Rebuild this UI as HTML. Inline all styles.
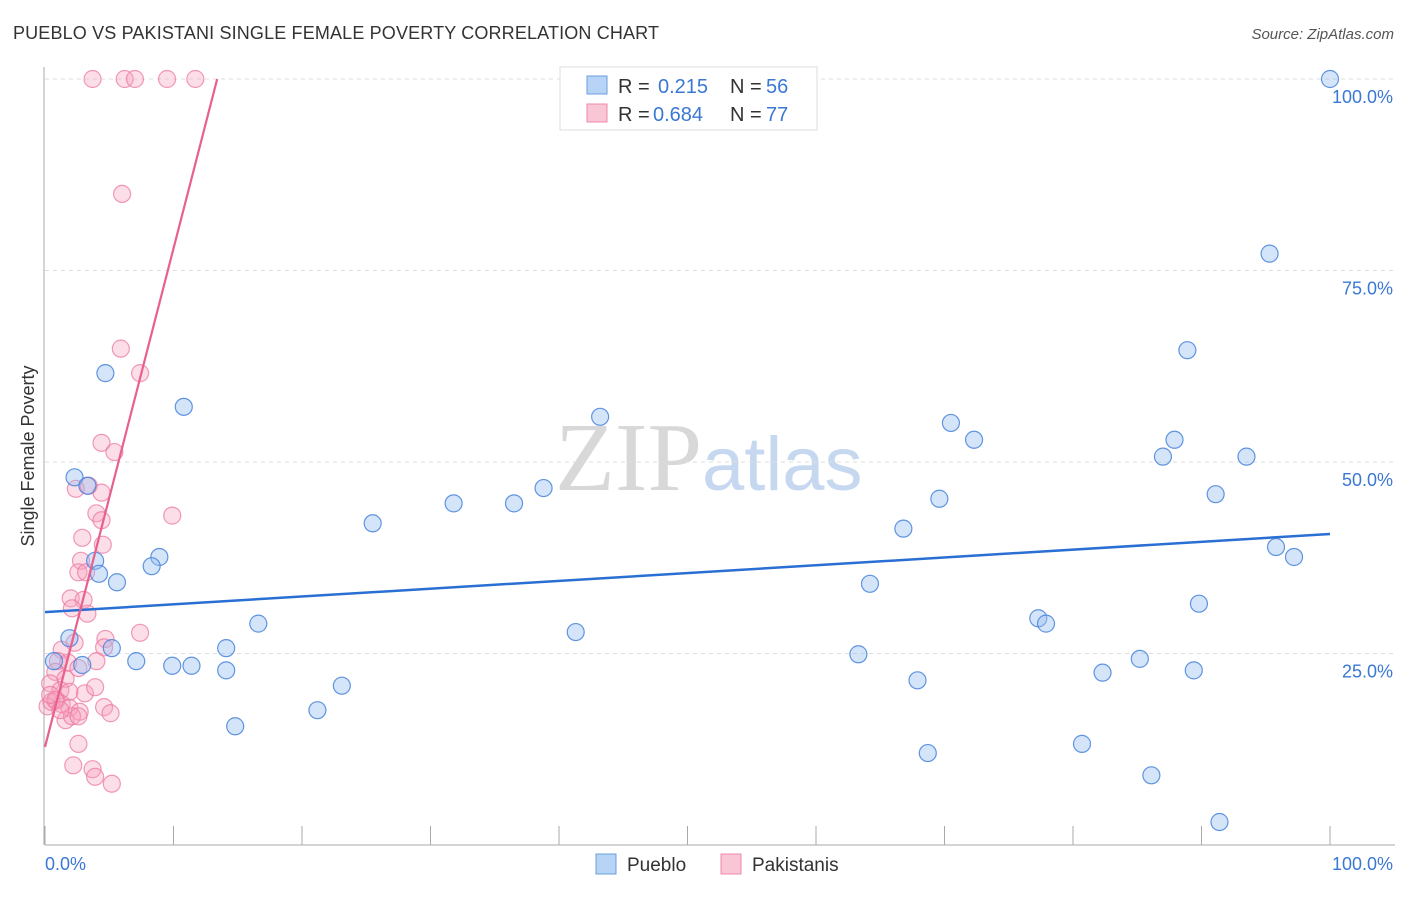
<!DOCTYPE html>
<html><head><meta charset="utf-8"><style>
body{margin:0;background:#fff;font-family:"Liberation Sans",sans-serif;}
</style></head><body>
<svg id="chart" width="1406" height="892" xmlns="http://www.w3.org/2000/svg" font-family="Liberation Sans, sans-serif">
<text x="13" y="39" font-size="18" fill="#333" textLength="646">PUEBLO VS PAKISTANI SINGLE FEMALE POVERTY CORRELATION CHART</text>
<text x="1394" y="39" font-size="15" fill="#555" text-anchor="end" font-style="italic">Source: ZipAtlas.com</text>
<text x="555" y="490" font-size="98"><tspan fill="#d8d8d8" font-family="Liberation Serif, serif">ZIP</tspan><tspan fill="#c6d8f0" font-size="76">atlas</tspan></text>
<text transform="translate(34,456) rotate(-90)" font-size="18" fill="#333" text-anchor="middle">Single Female Poverty</text>
<g id="axes"></g>
<g id="marks"></g>
<g>
<rect x="560" y="67" width="257" height="63" fill="#fff" stroke="#ddd"/>
<rect x="587" y="76" width="20" height="18" fill="#b7d3f5" stroke="#6a9fe0"/>
<text x="618" y="93" font-size="20" fill="#333">R =</text>
<text x="658" y="93" font-size="20" fill="#3a78d4">0.215</text>
<text x="730" y="93" font-size="20" fill="#333">N =</text>
<text x="766" y="93" font-size="20" fill="#3a78d4">56</text>
<rect x="587" y="104" width="20" height="18" fill="#f9c6d6" stroke="#f08aab"/>
<text x="618" y="121" font-size="20" fill="#333">R =</text>
<text x="653" y="121" font-size="20" fill="#3a78d4">0.684</text>
<text x="730" y="121" font-size="20" fill="#333">N =</text>
<text x="766" y="121" font-size="20" fill="#3a78d4">77</text>
</g>
<g>
<rect x="596" y="854" width="20" height="20" fill="#b7d3f5" stroke="#6a9fe0"/>
<text x="627" y="871" font-size="19" fill="#333">Pueblo</text>
<rect x="721" y="854" width="20" height="20" fill="#f9c6d6" stroke="#f08aab"/>
<text x="752" y="871" font-size="19" fill="#333">Pakistanis</text>
</g>
</svg>
<script>
const blueX=[100,95.3,88.9,4.7,10.8,43.2,70.5,72.3,87.9,87.0,93.5,2.3,3.3,38.8,31.8,36.5,91.1,69.6,25.5,66.8,8.9,8.3,3.9,4.2,5.6,64.2,95.8,97.2,89.8,77.3,77.9,16.6,41.3,1.9,5.2,14.1,63.3,0.7,7.1,9.9,11.4,2.9,85.2,82.3,89.4,14.1,67.9,23.1,21.2,14.8,68.7,80.7,86.1,91.4];
const blueY=[100,77.2,64.6,61.6,57.2,55.9,55.1,52.9,52.9,50.7,50.7,48.0,46.9,46.6,44.6,44.6,45.8,45.2,42.0,41.3,37.6,36.4,37.1,35.4,34.3,34.1,38.9,37.6,31.5,29.6,28.9,28.9,27.8,27.0,25.7,25.7,24.9,24.0,24.0,23.4,23.4,23.5,24.3,22.5,22.8,22.8,21.5,20.8,17.6,15.5,12.0,13.2,9.1,3.0];
const pinkX=[3.7,6.2,7.0,9.5,11.7,6.0,5.9,7.4,4.4,5.4,2.4,3.4,4.4,9.9,4.0,4.4,2.9,4.5,2.8,2.6,3.2,2.0,3.0,2.1,3.3,7.4,2.3,4.7,4.6,1.3,1.0,4.0,1.8,0.8,2.6,1.6,0.4,1.2,3.1,1.9,3.9,0.9,1.3,0.2,0.5,1.9,2.7,4.6,5.1,1.6,2.1,2.6,2.6,2.2,3.7,3.9,5.2,0.8,0.4,1.2];
const pinkY=[100,100,100,100,100,85.0,64.8,61.6,52.5,51.3,46.5,46.9,46.0,43.0,43.3,42.4,40.1,39.2,37.1,35.6,35.6,32.2,32.0,30.9,30.2,27.7,26.4,26.9,25.8,25.5,24.0,24.0,23.8,22.6,23.1,21.7,21.1,20.2,19.8,20.0,20.6,18.9,18.4,18.1,18.7,17.9,17.4,18.0,17.2,16.3,16.8,16.8,13.2,10.4,9.9,8.9,8.0,18.9,19.6,17.6];
const blueTrend=[[0,30.4],[100,40.6]];
const pinkTrend=[[0,12.8],[13.4,100]];
const yTicks=[25,50,75,100];
const xTickLabels=["0.0%","100.0%"];

const X0=45,X1=1330,Y0=845,Y1=79;
const sx=v=>X0+(X1-X0)*v/100;
const sy=v=>Y0-(Y0-Y1)*v/100;
const NS="http://www.w3.org/2000/svg";
function mk(tag,attrs,parent){const e=document.createElementNS(NS,tag);for(const k in attrs)e.setAttribute(k,attrs[k]);parent.appendChild(e);return e;}
const axes=document.getElementById('axes'),marks=document.getElementById('marks');
yTicks.forEach(t=>{
  const g=mk('line',{x1:X0,x2:1395,y1:sy(t),y2:sy(t),stroke:'#ddd','stroke-dasharray':'4,4'},axes);
  
  
  const tx=mk('text',{x:1393,y:sy(t)+24,'font-size':18,fill:'#3a78d4','text-anchor':'end'},axes);
  tx.textContent=t.toFixed(1)+'%';
  
  
});
const ya=mk('line',{x1:44,x2:44,y1:67,y2:845,stroke:'#aaa'},axes);


const xa=mk('line',{x1:X0,x2:1395,y1:845,y2:845,stroke:'#aaa'},axes);


for(let i=0;i<=10;i++){
  const t=mk('line',{x1:sx(i*10),x2:sx(i*10),y1:826,y2:845,stroke:'#aaa'},axes);
  
  
}
[[0,'start',45],[100,'end',1393]].forEach((d,i)=>{
  const t=mk('text',{x:d[2],y:870,'font-size':18,fill:'#3a78d4','text-anchor':d[1]},axes);
  t.textContent=xTickLabels[i];
  
  
});
function dots(xs,ys,fill,stroke,name){
  xs.forEach((x,i)=>{
    const c=mk('circle',{cx:sx(x),cy:sy(ys[i]),r:8.5,fill:fill,stroke:stroke,'stroke-width':1.2},marks);
    
    
  });
}
dots(pinkX,pinkY,'rgba(245,160,190,0.35)','rgba(236,120,160,0.75)','pakistani-point');
dots(blueX,blueY,'rgba(150,190,240,0.4)','rgba(70,130,220,0.85)','pueblo-point');
const bl=mk('line',{x1:sx(blueTrend[0][0]),y1:sy(blueTrend[0][1]),x2:sx(blueTrend[1][0]),y2:sy(blueTrend[1][1]),stroke:'#2a6fd4','stroke-width':2.5},marks);


const pl=mk('line',{x1:sx(pinkTrend[0][0]),y1:sy(pinkTrend[0][1]),x2:sx(pinkTrend[1][0]),y2:sy(pinkTrend[1][1]),stroke:'#e8608c','stroke-width':2.2},marks);


</script>
</body></html>
